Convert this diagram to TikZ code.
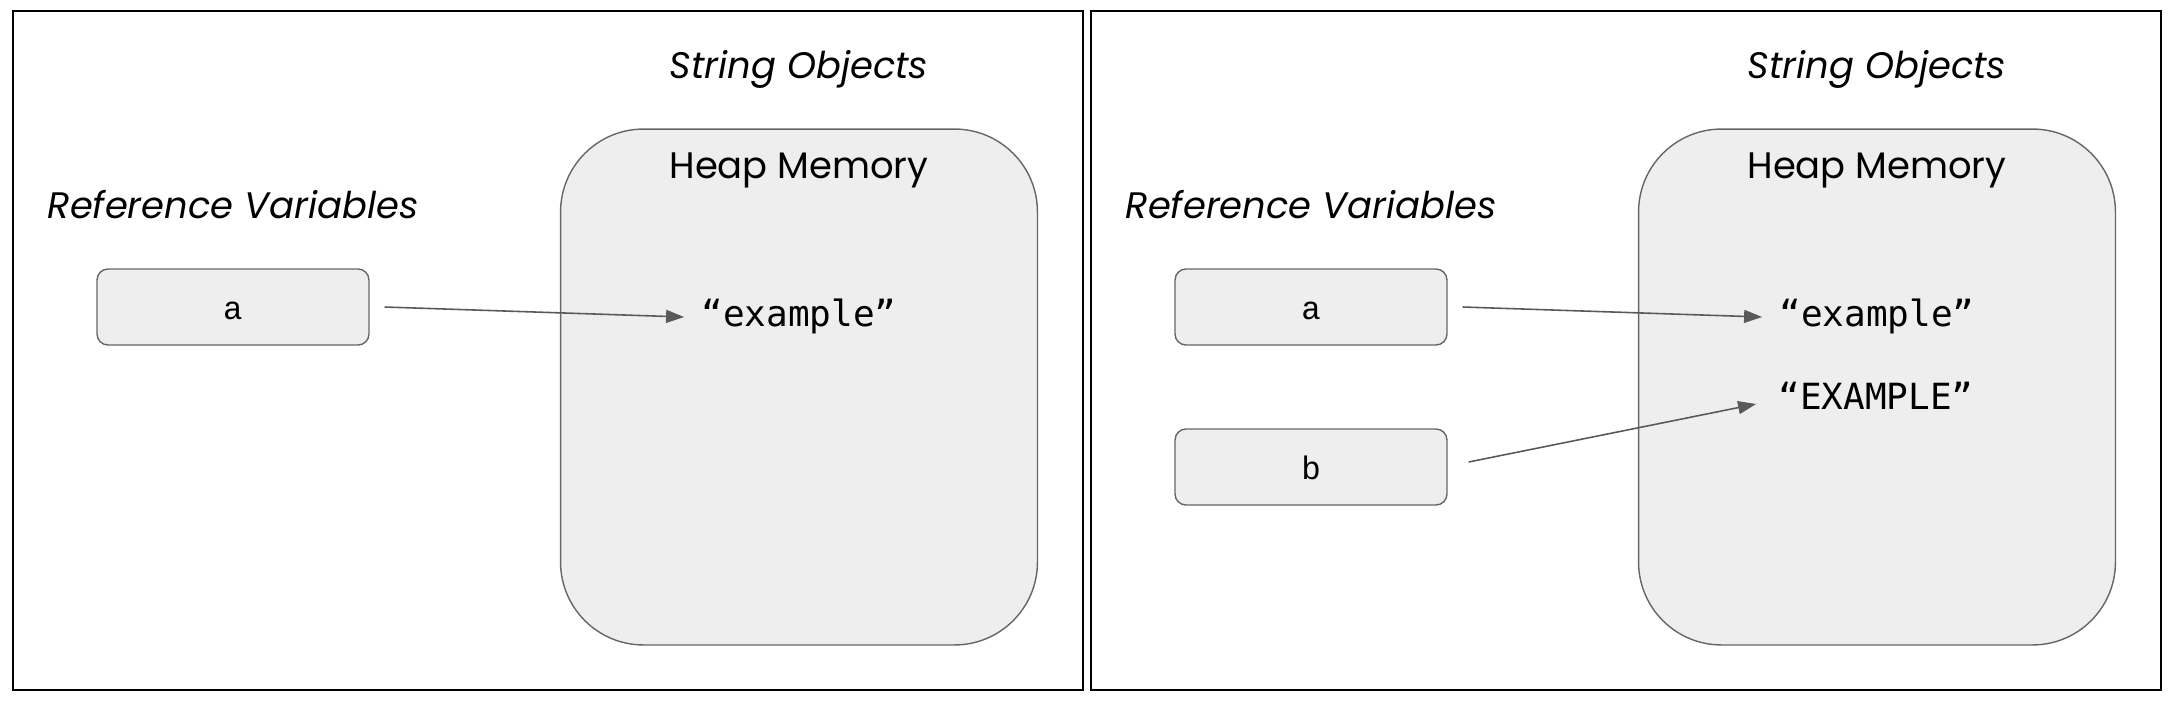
\documentclass[tikz,border=0pt]{standalone}
\usepackage{fontspec}
\setmainfont{Poppins}
\setmonofont{DejaVu Sans Mono}
\newfontfamily\varfont{Liberation Mono}
\usetikzlibrary{arrows.meta, positioning}

\definecolor{boxfill}{HTML}{EEEEEE}
\definecolor{boxline}{HTML}{666666}
\definecolor{arrowgray}{HTML}{595959}

\begin{document}
\begin{tikzpicture}[x=0.02cm, y=-0.02cm,
            frame/.style={draw=black, line width=1.4pt},
            heap/.style={rectangle, draw=boxline, fill=boxfill, line width=0.8pt, rounded corners=1.66cm, minimum width=9.54cm, minimum height=10.32cm},
            varbox/.style={rectangle, draw=boxline, fill=boxfill, line width=0.8pt, rounded corners=0.22cm, minimum width=5.44cm, minimum height=1.52cm, text height=14.5pt, text depth=0pt, font=\varfont\fontsize{18.5}{20}\selectfont},
            heading/.style={font=\itshape\fontsize{21}{24}\selectfont},
            heaplabel/.style={font=\fontsize{21}{24}\selectfont},
            strobj/.style={inner sep=0pt, font=\ttfamily\fontsize{20.5}{22}\selectfont},
            ref/.style={draw=arrowgray, line width=0.9pt, -{Triangle[length=0.36cm, width=0.26cm]}}
        ]
\useasboundingbox (0,0) rectangle (2174,704);

% Left panel
            \draw[frame] (13,11) rectangle (1083,690);
            \node[heading] (soL) at (799,69) {String Objects};
            \node[heap] (heapL) at (799,387) {};
            \node[heaplabel] (hmL) at (799,170) {Heap Memory};
            \node[heading] (rvL) at (233,205) {Reference Variables};
            \node[varbox] (a1) at (233,307) {a};
            \node[strobj] (ex1) at (799,316) {“example”};
            \draw[ref] ([xshift=0.3cm]a1.east) -- ([xshift=-0.34cm, yshift=-0.02cm]ex1.west);

% Right panel
            \draw[frame] (1091,11) rectangle (2161,690);
            \node[heading] (soR) at (1877,69) {String Objects};
            \node[heap] (heapR) at (1877,387) {};
            \node[heaplabel] (hmR) at (1877,170) {Heap Memory};
            \node[heading] (rvR) at (1311,205) {Reference Variables};
            \node[varbox] (a2) at (1311,307) {a};
            \node[varbox] (b2) at (1311,467) {b};
            \node[strobj] (ex2) at (1877,316) {“example”};
            \node[strobj] (EX2) at (1876,396) {“EXAMPLE”};
            \draw[ref] ([xshift=0.3cm]a2.east) -- ([xshift=-0.34cm, yshift=-0.02cm]ex2.west);
            \draw[ref] ([xshift=0.42cm, yshift=0.1cm]b2.east) -- ([xshift=-0.44cm, yshift=-0.16cm]EX2.west);

        \end{tikzpicture}
\end{document}
